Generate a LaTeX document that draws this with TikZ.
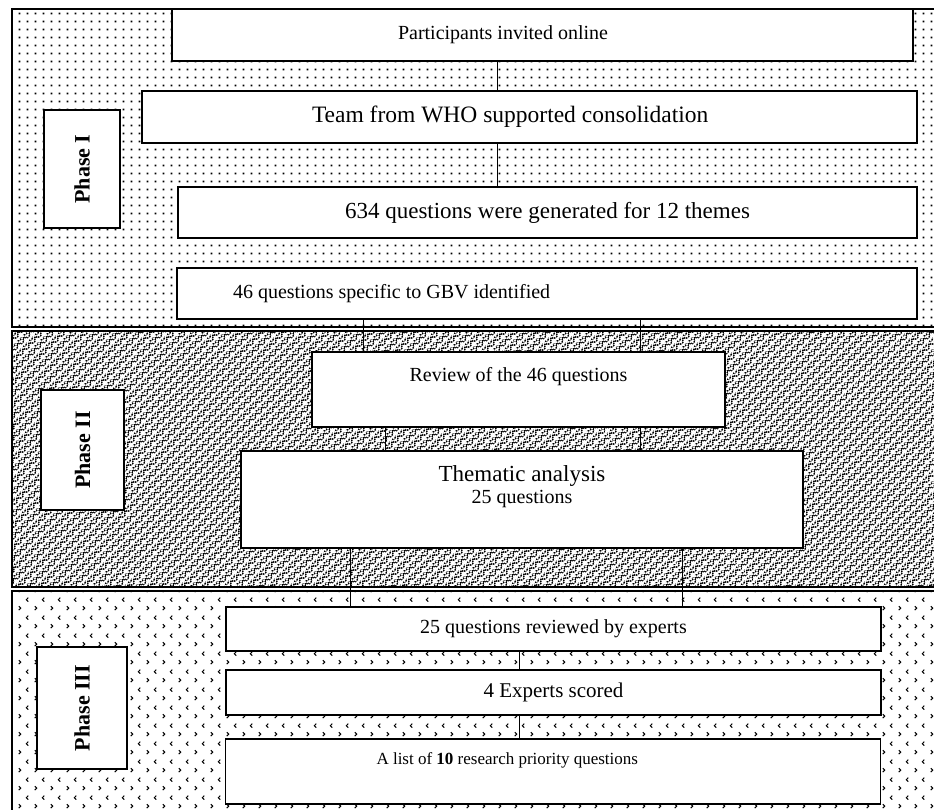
\documentclass[tikz,border=0pt]{standalone}
\usepackage{fontspec}
\setmainfont{Liberation Serif}
\usetikzlibrary{patterns.meta}

\tikzdeclarepattern{
  name=phasedots, type=uncolored,
  bounding box={(0pt,0pt) and (8pt,8pt)},
  tile size={(8pt,8pt)},
  code={\fill (3pt,3pt) rectangle (4.9pt,4.9pt);}
}
\tikzdeclarepattern{
  name=phaseweave, type=uncolored,
  bounding box={(0pt,0pt) and (8pt,8pt)},
  tile size={(8pt,8pt)},
  tile transformation={rotate=45},
  code={\draw[line width=1.1pt] (0pt,1pt) -- (4pt,5pt) -- (8pt,1pt);
        \draw[line width=1.1pt] (0pt,5pt) -- (2pt,7pt);
        \draw[line width=1.1pt] (8pt,5pt) -- (6pt,7pt);}
}
\tikzdeclarepattern{
  name=phasechev, type=uncolored,
  bounding box={(0pt,0pt) and (16pt,18pt)},
  tile size={(16pt,18pt)},
  code={\draw[line width=1.1pt] (3pt,2pt) -- (5pt,4pt) -- (3pt,6pt);
        \draw[line width=1.1pt] (13pt,11pt) -- (11pt,13pt) -- (13pt,15pt);}
}

\begin{document}
\begin{tikzpicture}[
	x=1pt, y=-1pt,
	band/.style={draw=black, line width=1.3pt},
	stage/.style={draw=black, line width=1.3pt, fill=white, inner sep=0pt,
		font=\fontsize{20}{22}\selectfont},
	phase/.style={draw=black, line width=1.3pt, fill=white, rotate=90, inner sep=0pt,
		font=\fontsize{22}{26}\selectfont\bfseries},
	link/.style={line width=1pt}
	]

	\useasboundingbox (0,0) rectangle (934,809);
	\begin{scope}
		\clip (0,0) rectangle (934,809);
		\draw[band, pattern={phasedots}] (12,9) rectangle (945,327);
		\draw[band, pattern={phaseweave}] (12,331) rectangle (945,587);
		\draw[band, pattern={phasechev}] (12,591) rectangle (945,820);
	\end{scope}

	\node[phase, minimum width=118pt, minimum height=76pt] (ph1) at (82,169) {Phase I};
	\node[phase, minimum width=120pt, minimum height=83pt] (ph2) at (82.5,450) {Phase II};
	\node[phase, minimum width=122pt, minimum height=90pt] (ph3) at (82,708) {Phase III};

	\node[stage, minimum width=741pt, minimum height=52pt, inner xsep=226pt] (invite) at (542.5,35) {\makebox[289pt][l]{Participants invited online}};
	\node[stage, minimum width=775pt, minimum height=52pt, inner xsep=170pt, font=\fontsize{23.5}{26}\selectfont] (consol) at (529.5,117) {\makebox[435pt][l]{Team from WHO supported consolidation}};
	\node[stage, minimum width=739pt, minimum height=51pt, font=\fontsize{23}{26}\selectfont] (generated) at (547.5,212.5) {634 questions were generated for 12 themes};
	\node[stage, minimum width=740pt, minimum height=51pt, inner xsep=56pt] (gbv) at (547,293.5) {\makebox[628pt][l]{46 questions specific to GBV identified}};

	\node[stage, minimum width=413pt, minimum height=75pt, inner ysep=13pt, text height=16pt, text depth=33pt] (review) at (518.5,389.5) {Review of the 46 questions};
	\node[stage, minimum width=562pt, minimum height=97pt, inner ysep=14pt, text height=16pt, text depth=53pt] (thematic) at (522,499.5) {\begin{tabular}[t]{@{}c@{}}{\fontsize{23}{22}\selectfont Thematic analysis}\\25 questions\end{tabular}};

	\node[stage, minimum width=655pt, minimum height=44pt] (experts) at (553.5,629) {25 questions reviewed by experts};
	\node[stage, minimum width=655pt, minimum height=45pt, font=\fontsize{21}{24}\selectfont] (scored) at (553.5,692.5) {4 Experts scored};
	\node[stage, minimum width=655pt, minimum height=65pt, inner xsep=151pt, inner ysep=13pt, text height=12pt, text depth=27pt, font=\fontsize{17}{20}\selectfont] (list) at (553,771.5) {\makebox[353pt][l]{A list of \textbf{10} research priority questions}};

	\draw[link] (invite.south -| 497,0) -- (consol.north -| 497,0);
	\draw[link] (consol.south -| 497,0) -- (generated.north -| 497,0);
	\draw[link] (gbv.south -| 363,0) -- (review.north -| 363,0);
	\draw[link] (gbv.south -| 640,0) -- (review.north -| 640,0);
	\draw[link] (review.south -| 385,0) -- (thematic.north -| 385,0);
	\draw[link] (review.south -| 640,0) -- (thematic.north -| 640,0);
	\draw[link] (thematic.south -| 350,0) -- (experts.north -| 350,0);
	\draw[link] (thematic.south -| 682,0) -- (experts.north -| 682,0);
	\draw[link] (experts.south -| 519,0) -- (scored.north -| 519,0);
	\draw[link] (scored.south -| 519,0) -- (list.north -| 519,0);

\end{tikzpicture}
\end{document}
